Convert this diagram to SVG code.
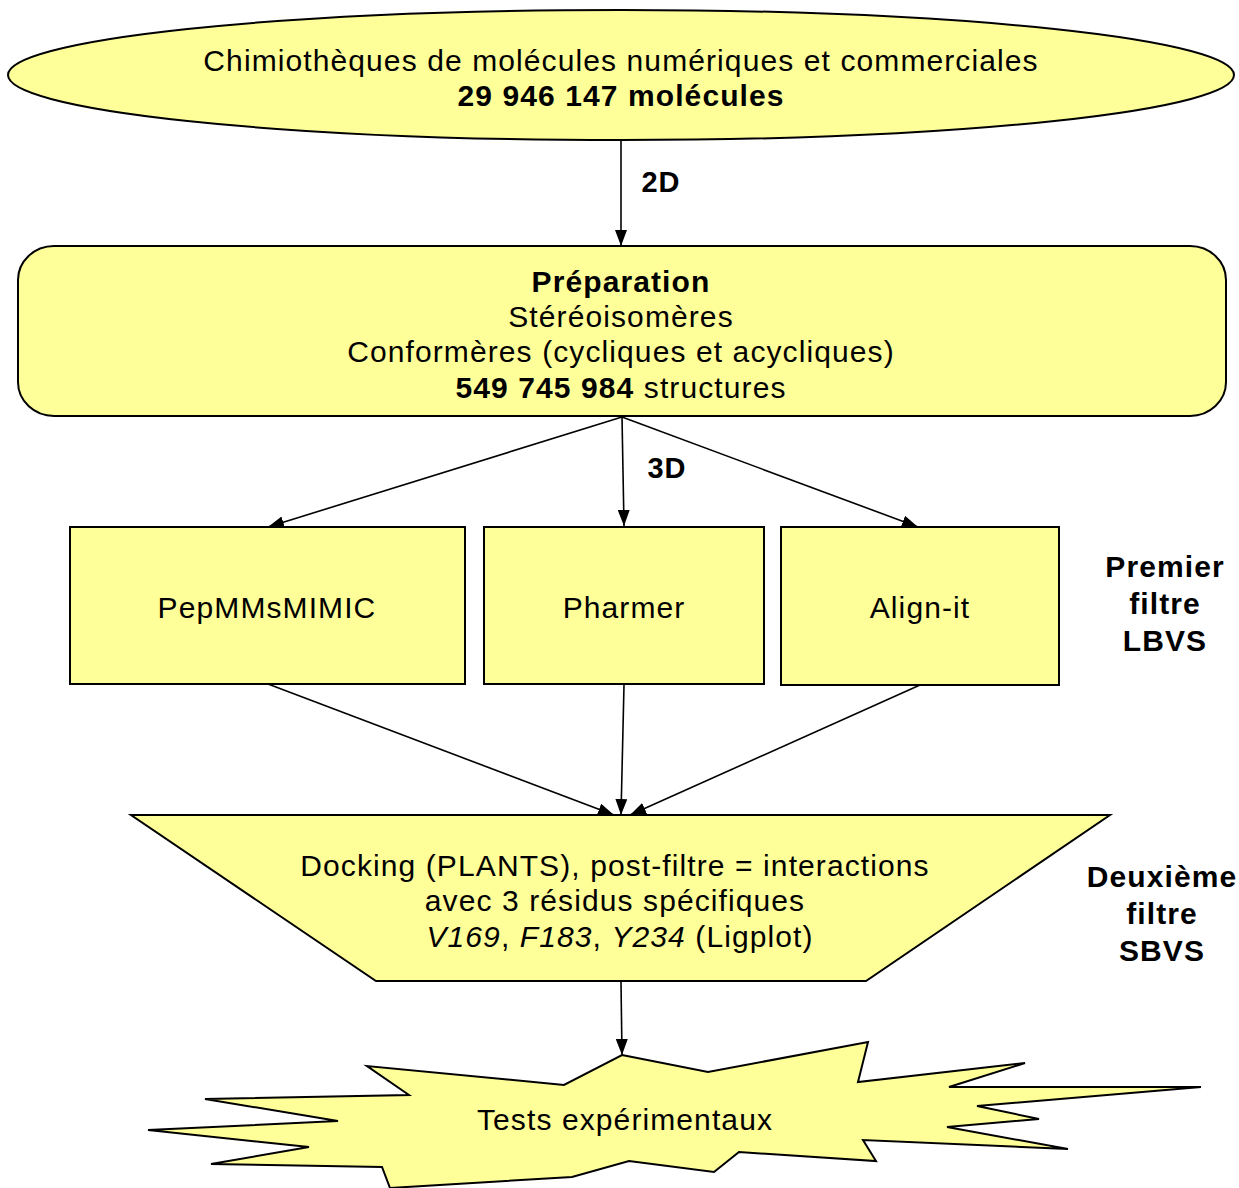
<svg xmlns="http://www.w3.org/2000/svg" width="1239" height="1188" viewBox="0 0 1239 1188">
<style>
.n{fill:#ffff99;stroke:#000;stroke-width:2}
.t{font-family:"Liberation Sans",Arial,sans-serif;font-size:30px;letter-spacing:1.1px;fill:#000;text-anchor:middle}
.b{font-weight:bold}
.c{stroke:#000;stroke-width:1.6;fill:none;marker-end:url(#ah)}
</style>
<defs>
<marker id="ah" viewBox="0 0 16 12" refX="16" refY="6" markerWidth="16" markerHeight="12" markerUnits="userSpaceOnUse" orient="auto">
<path d="M0,0 L16,6 L0,12 Z" fill="#000"/>
</marker>
</defs>
<rect width="1239" height="1188" fill="#fff"/>
<g id="connectors">
<line class="c" x1="621" y1="140" x2="621" y2="246"/>
<line class="c" x1="622" y1="417" x2="268" y2="527"/>
<line class="c" x1="622" y1="417" x2="624" y2="526"/>
<line class="c" x1="622" y1="417" x2="918" y2="527"/>
<line class="c" x1="268" y1="684" x2="614" y2="815"/>
<line class="c" x1="624" y1="685" x2="621" y2="815"/>
<line class="c" x1="920" y1="685" x2="630" y2="815"/>
<line class="c" x1="621" y1="982" x2="622" y2="1055"/>
<text class="t b" x="661" y="192" style="font-size:29px;letter-spacing:1px">2D</text>
<text class="t b" x="667" y="478" style="font-size:29px;letter-spacing:1px">3D</text>
</g>
<g id="chimiotheques">
<ellipse class="n" cx="621" cy="75" rx="613" ry="65"/>
<text class="t" x="621" y="71">Chimiothèques de molécules numériques et commerciales</text>
<text class="t b" x="621" y="106">29 946 147 molécules</text>
</g>
<g id="preparation">
<rect class="n" x="18" y="246" width="1208" height="170" rx="36" ry="34"/>
<text class="t b" x="621" y="292">Préparation</text>
<text class="t" x="621" y="327">Stéréoisomères</text>
<text class="t" x="621" y="362">Conformères (cycliques et acycliques)</text>
<text class="t" x="621" y="398"><tspan class="b">549 745 984</tspan> structures</text>
</g>
<g id="pepmmsmimic">
<rect class="n" x="70" y="527" width="395" height="157"/>
<text class="t" x="267" y="618">PepMMsMIMIC</text>
</g>
<g id="pharmer">
<rect class="n" x="484" y="527" width="280" height="157"/>
<text class="t" x="624" y="618">Pharmer</text>
</g>
<g id="alignit">
<rect class="n" x="781" y="527" width="278" height="158"/>
<text class="t" x="920" y="618">Align-it</text>
</g>
<g id="premier-filtre">
<text class="t b" x="1165" y="577">Premier</text>
<text class="t b" x="1165" y="614">filtre</text>
<text class="t b" x="1165" y="651">LBVS</text>
</g>
<g id="docking">
<polygon class="n" points="131,815 1110,815 866,981 376,981"/>
<text class="t" x="615" y="876">Docking (PLANTS), post-filtre = interactions</text>
<text class="t" x="615" y="911">avec 3 résidus spécifiques</text>
<text class="t" x="620" y="947"><tspan font-style="italic">V169</tspan>, <tspan font-style="italic">F183</tspan>, <tspan font-style="italic">Y234</tspan> (Ligplot)</text>
</g>
<g id="deuxieme-filtre">
<text class="t b" x="1162" y="887">Deuxième</text>
<text class="t b" x="1162" y="924">filtre</text>
<text class="t b" x="1162" y="961">SBVS</text>
</g>
<g id="tests">
<polygon class="n" points="622,1055 708,1072 868,1042 858,1082 1025,1063 949,1087 1201,1087 977,1106 1039,1119 947,1127 1068,1149 863,1140 876,1161 739,1152 714,1172 629,1161 572,1177 390,1188 382,1167 211,1164 309,1147 148,1130 338,1121 205,1099 409,1095 367,1066 564,1085"/>
<text class="t" x="625" y="1130">Tests expérimentaux</text>
</g>
</svg>
